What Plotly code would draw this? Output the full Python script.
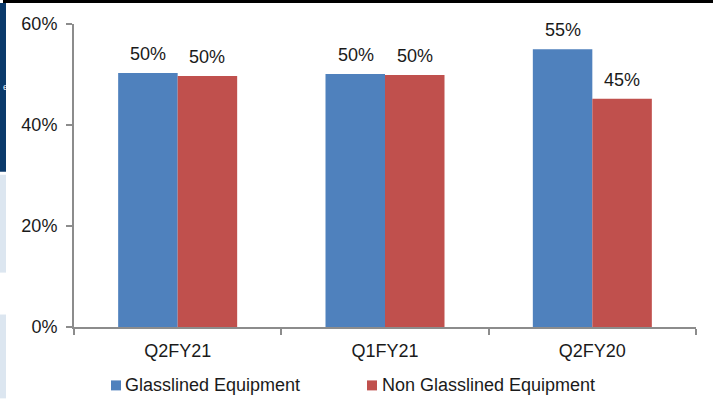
import plotly.graph_objects as go

categories = ["Q2FY21", "Q1FY21", "Q2FY20"]
glasslined = [50.3, 50.1, 55.0]
non_glasslined = [49.7, 49.9, 45.2]
series_names = ["Glasslined Equipment", "Non Glasslined Equipment"]
y_ticks = [0, 20, 40, 60]
y_tick_labels = ["0%", "20%", "40%", "60%"]

BLUE = "#4f81bd"
RED = "#c0504d"
FONT = "Liberation Sans, Arial, sans-serif"
TXT = "#1a1a1a"
FS = 18

W, H = 713, 399
plot_l, plot_r, plot_t, plot_b = 74, 696, 24, 327.5


def px_x(x):
    return (x - plot_l) / (plot_r - plot_l)


def px_y(y):
    return (plot_b - y) / (plot_b - plot_t)


fig = go.Figure()
fig.add_trace(go.Bar(name=series_names[0], x=categories, y=glasslined,
                     marker=dict(color=BLUE, line=dict(width=0)), showlegend=False))
fig.add_trace(go.Bar(name=series_names[1], x=categories, y=non_glasslined,
                     marker=dict(color=RED, line=dict(width=0)), showlegend=False))

annotations = []
for cat, v in zip(categories, glasslined):
    annotations.append(dict(x=cat, y=v, xref="x", yref="y", text=f"{round(v)}%",
                            showarrow=False, xshift=-29.5, yshift=19, yanchor="middle",
                            font=dict(family=FONT, size=FS, color=TXT)))
for cat, v in zip(categories, non_glasslined):
    annotations.append(dict(x=cat, y=v, xref="x", yref="y", text=f"{round(v)}%",
                            showarrow=False, xshift=29.5, yshift=19, yanchor="middle",
                            font=dict(family=FONT, size=FS, color=TXT)))

# manual legend (square marker + text)
legend_items = [(series_names[0], BLUE, 111, 123), (series_names[1], RED, 367, 380)]
legend_yc = 386
shapes = []
for name, col, mx, tx in legend_items:
    shapes.append(dict(type="rect", xref="paper", yref="paper",
                       x0=px_x(mx), x1=px_x(mx + 10), y0=px_y(legend_yc + 5), y1=px_y(legend_yc - 5),
                       fillcolor=col, line=dict(width=0)))
    annotations.append(dict(x=px_x(tx), y=px_y(legend_yc), xref="paper", yref="paper",
                            text=name, showarrow=False, xanchor="left", yanchor="middle",
                            font=dict(family=FONT, size=FS, color=TXT)))

# slide artefacts around the cropped chart (top rule and left strip)
for x0, x1, y0, y1, col in [
    (3, 713, 0, 3, "#000000"),
    (0, 6, 3, 172, "#0b3a6b"),
    (0, 6, 175, 273, "#dce6f0"),
    (0, 6, 315, 399, "#dce6f0"),
]:
    shapes.append(dict(type="rect", xref="paper", yref="paper",
                       x0=px_x(x0), x1=px_x(x1), y0=px_y(y1), y1=px_y(y0),
                       fillcolor=col, line=dict(width=0), layer="above"))
annotations.append(dict(x=px_x(0.5), y=px_y(87), xref="paper", yref="paper", text="e",
                        showarrow=False, xanchor="left", yanchor="middle",
                        font=dict(family=FONT, size=9, color="white")))

fig.update_layout(
    width=W, height=H,
    margin=dict(l=plot_l, r=W - plot_r, t=plot_t, b=H - plot_b, pad=0, autoexpand=False),
    paper_bgcolor="white", plot_bgcolor="white",
    barmode="group", bargap=0.426, bargroupgap=0,
    showlegend=False,
    font=dict(family=FONT, size=FS, color=TXT),
    xaxis=dict(showgrid=False, showline=True, linecolor="#8c8c8c", linewidth=2,
               ticks="outside", tickson="boundaries", ticklen=6, tickwidth=2,
               tickcolor="#8c8c8c", ticklabelstandoff=6,
               tickfont=dict(family=FONT, size=FS, color=TXT)),
    yaxis=dict(range=[0, 60], tickvals=y_ticks, ticktext=y_tick_labels,
               showgrid=False, zeroline=False, showline=True, linecolor="#8c8c8c",
               linewidth=2, ticks="outside", ticklen=6, tickwidth=2, tickcolor="#8c8c8c",
               ticklabelstandoff=5,
               tickfont=dict(family=FONT, size=FS, color=TXT)),
    annotations=annotations,
    shapes=shapes,
)

fig.write_html(
    "out.html", config={"displayModeBar": False},
    post_script=("document.body.style.margin='0px';"
                 "document.body.style.overflow='hidden';"
                 "document.documentElement.style.overflow='hidden';"
                 "document.body.style.lineHeight='0';"
                 "window.scrollTo(0,0);"))
